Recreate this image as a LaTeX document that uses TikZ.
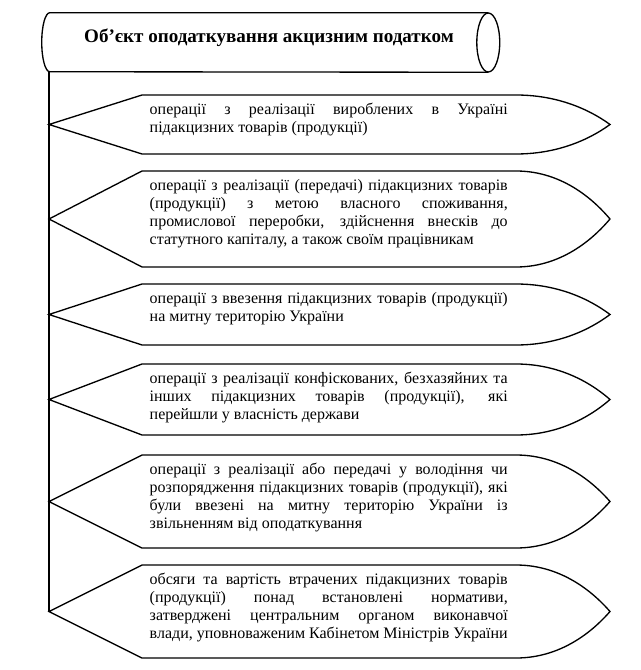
\documentclass[tikz,border=0pt]{standalone}
\usepackage{fontspec}
\setmainfont{Liberation Serif}

\begin{document}
\begin{tikzpicture}[
  x=0.75pt, y=-0.75pt,
  object/.style={minimum width=328.5pt, minimum height=44.25pt, inner sep=0pt,
                 text height=10pt, text depth=10.5pt,
                 font=\fontsize{14.3}{17}\selectfont\bfseries},
  item/.style={anchor=north west, text width=268.5pt, inner xsep=5.6pt,
               inner ysep=5.2pt, align=justify,
               font=\fontsize{12}{13.5}\selectfont\hyphenpenalty10000},
  pointer/.style={draw, line width=1pt, line join=miter},
  trunk/.style={line width=1pt},
]
  \useasboundingbox (0,0) rectangle (641,670);

  \node[object] (obj) at (269,42.5) {Об’єкт оподаткування акцизним податком};
  \draw[pointer] (obj.north east) -- (obj.north west)
    arc[start angle=90, end angle=270, x radius=6pt, y radius=22.125pt]
    -- (obj.south east);
  \draw[pointer] (obj.east) ellipse[x radius=8.6pt, y radius=22.125pt];

  \foreach \t/\b/\txt [count=\i] in {
    95/154/{операції з реалізації вироблених в Україні\linebreak
            підакцизних товарів (продукції)},
    171/267/{операції з реалізації (передачі) підакцизних товарів\linebreak
             (продукції) з метою власного споживання,\linebreak
             промислової переробки, здійснення внесків до\linebreak
             статутного капіталу, а також своїм працівникам},
    284/345/{операції з ввезення підакцизних товарів (продукції)\linebreak
             на митну територію України},
    364/435/{операції з реалізації конфіскованих, безхазяйних та\linebreak
             інших підакцизних товарів (продукції), які\linebreak
             перейшли у власність держави},
    455/548/{операції з реалізації або передачі у володіння чи\linebreak
             розпорядження підакцизних товарів (продукції), які\linebreak
             були ввезені на митну територію України із\linebreak
             звільненням від оподаткування},
    565/658/{обсяги та вартість втрачених підакцизних товарів\linebreak
             (продукції) понад встановлені нормативи,\linebreak
             затверджені центральним органом виконавчої\linebreak
             влади, уповноваженим Кабінетом Міністрів України}}{
    \pgfmathsetmacro\m{(\t+\b)/2}
    \pgfmathsetmacro\cu{\m-0.32*(\m-\t)}
    \pgfmathsetmacro\cl{\m+0.32*(\b-\m)}
    \coordinate (tip\i) at (49,\m);
    \node[item] (op\i) at (142,\t) {\strut\txt};
    \draw[pointer] (tip\i) -- (op\i.north west) -- (516,\t)
      .. controls (565,\t) and (597,\cu) .. (610,\m)
      .. controls (597,\cl) and (565,\b) .. (516,\b) -- (142,\b) -- cycle;
  }

  \draw[trunk] (obj.south -| tip1) -- (tip6);
\end{tikzpicture}
\end{document}
